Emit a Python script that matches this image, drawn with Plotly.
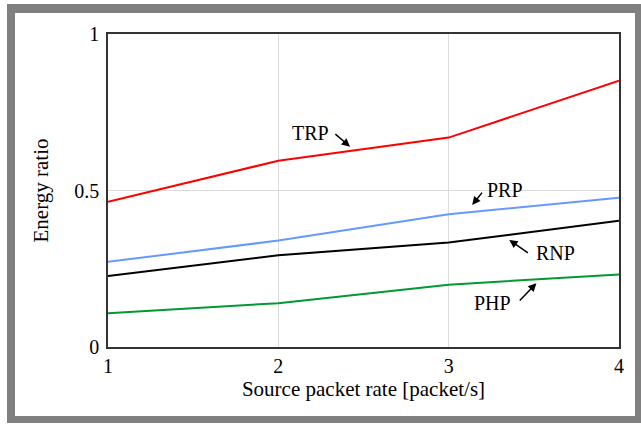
import plotly.graph_objects as go

rates = [1, 2, 3, 4]
trp = [0.464, 0.595, 0.669, 0.851]
prp = [0.272, 0.340, 0.424, 0.477]
rnp = [0.227, 0.293, 0.334, 0.403]
php = [0.108, 0.140, 0.199, 0.232]

series_names = ["TRP", "PRP", "RNP", "PHP"]
series_values = [trp, prp, rnp, php]
series_colors = ["#ff0000", "#6699ff", "#000000", "#009933"]

# label text centre, arrow tail, arrow head (data coordinates)
label_pos = {
    "TRP": ((2.19, 0.684), (2.326, 0.684), (2.421, 0.640)),
    "PRP": ((3.332, 0.502), (3.203, 0.498), (3.138, 0.454)),
    "RNP": ((3.626, 0.300), (3.474, 0.297), (3.356, 0.342)),
    "PHP": ((3.256, 0.141), (3.409, 0.144), (3.515, 0.204)),
}

W, H = 641, 425
L, R, T, B = 108, 22, 34, 78
pw, ph = W - L - R, H - T - B

def px(xp):
    return (xp - L) / pw

def py(yp):
    return (H - B - yp) / ph

FONT = "Liberation Serif, Times New Roman, serif"

fig = go.Figure()
for name, vals, col in zip(series_names, series_values, series_colors):
    fig.add_trace(go.Scatter(x=rates, y=vals, mode="lines", name=name,
                             line=dict(color=col, width=2)))

annotations = []
for name in series_names:
    (tx, ty), (ax_, ay_), (hx, hy) = label_pos[name]
    annotations.append(dict(x=tx, y=ty, xref="x", yref="y", text=name,
                            showarrow=False, font=dict(family=FONT, size=20, color="black"),
                            xanchor="center", yanchor="middle"))
    annotations.append(dict(x=hx, y=hy, xref="x", yref="y", text="",
                            showarrow=True, ax=ax_, ay=ay_, axref="x", ayref="y",
                            arrowhead=2, arrowsize=1.1, arrowwidth=1.5,
                            arrowcolor="black", standoff=0, startstandoff=0))

shapes = [
    dict(type="rect", xref="paper", yref="paper", layer="below",
         x0=px(7), x1=px(660), y0=py(423), y1=py(4),
         fillcolor="#808080", line=dict(width=0)),
    dict(type="rect", xref="paper", yref="paper", layer="below",
         x0=px(15), x1=px(635), y0=py(416), y1=py(13),
         fillcolor="white", line=dict(width=0)),
]

fig.update_layout(
    width=W, height=H,
    margin=dict(l=L, r=R, t=T, b=B, autoexpand=False),
    paper_bgcolor="white",
    plot_bgcolor="rgba(0,0,0,0)",
    showlegend=False,
    font=dict(family=FONT, size=20, color="black"),
    annotations=annotations,
    shapes=shapes,
)
fig.update_xaxes(range=[1, 4], tickvals=rates, ticktext=[str(r) for r in rates],
                 showgrid=True, gridcolor="#dcdcdc", gridwidth=1,
                 showline=True, linecolor="#333333", linewidth=1.5, mirror=True,
                 ticks="", zeroline=False, tickfont=dict(size=20),
                 title=dict(text="Source packet rate [packet/s]", font=dict(size=21), standoff=4))
fig.update_yaxes(range=[0, 1], tickvals=[0, 0.5, 1], ticktext=["0", "0.5", "1"],
                 showgrid=True, gridcolor="#dcdcdc", gridwidth=1,
                 showline=True, linecolor="#333333", linewidth=1.5, mirror=True,
                 ticks="", zeroline=False, tickfont=dict(size=20), ticklabelstandoff=3,
                 title=dict(text="Energy ratio", font=dict(size=21), standoff=20))

fig.write_html("out.html", config={"displayModeBar": False},
               post_script="document.body.style.margin='0';document.body.style.overflow='hidden';")
